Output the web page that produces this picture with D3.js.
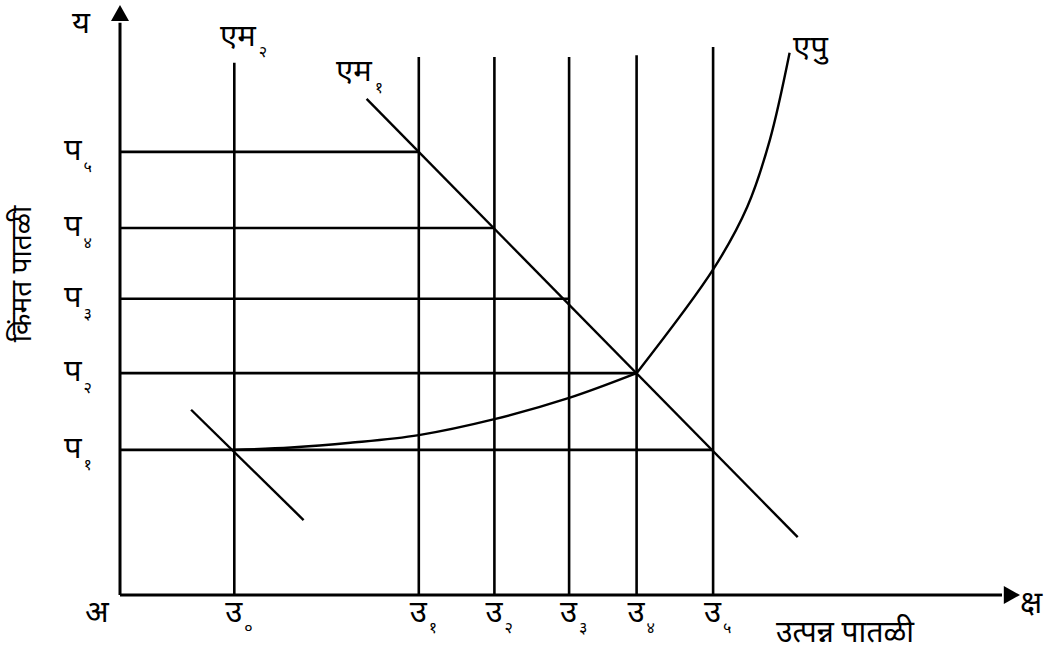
<!DOCTYPE html>
<html><head><meta charset="utf-8">
<script src="https://cdn.jsdelivr.net/npm/d3@7"></script>
<style>
html,body{margin:0;padding:0;background:#fff;}
text{font-family:"Noto Sans","Lohit Devanagari","FreeSans",sans-serif;fill:#000;}
</style></head>
<body><svg id="c" width="1047" height="650"></svg>
<script>
// Output levels (उ) on x, price levels (प) on y, in arbitrary units
const outputLabels = ["उ","उ","उ","उ","उ","उ"];
const outputSubs   = ["०","१","२","३","४","५"];
const outputLevels = [12.7, 33.2, 41.6, 49.9, 57.4, 65.9];
const outputTops   = [90.2, 91.2, 91.2, 91.2, 91.5, 92.9];
const priceSubs    = ["१","२","३","४","५"];
const priceLevels  = [24.6, 37.6, 50.2, 62.2, 75.1];
// horizontal price lines end at the matching output level (उ5..उ1)
const priceEnds    = [65.9, 57.4, 49.9, 41.6, 33.2];
// एम१ demand line endpoints
const m1X = [27.4, 75.3];
const m1Y = [84.1, 9.8];
// short segment through (उ0, प1)
const m2X = [7.9, 20.4];
const m2Y = [31.4, 12.7];
// एपु curve: lower part up to (उ4, प2) and steep upper part
const acLowX = [12.7, 19.0, 25.6, 33.2, 41.6, 49.9, 57.4];
const acLowY = [24.6, 25.0, 25.8, 27.1, 29.8, 33.4, 37.6];
const acUpX  = [57.4, 66.0, 69.7, 72.2, 74.4];
const acUpY  = [37.6, 55.4, 65.8, 77.1, 91.9];

const svg = d3.select("#c");
const x = d3.scaleLinear().domain([0,100]).range([120,1020]);
const y = d3.scaleLinear().domain([0,100]).range([595,5]);

const g = svg.append("g");

g.selectAll(".vl").data(outputLevels).join("line")
  .attr("x1",d=>x(d)).attr("x2",d=>x(d))
  .attr("y1",(d,i)=>y(outputTops[i])).attr("y2",y(0))
  .attr("stroke","#000").attr("stroke-width",2.6);

g.selectAll(".hl").data(priceLevels).join("line")
  .attr("x1",x(0)).attr("x2",(d,i)=>x(priceEnds[i]))
  .attr("y1",d=>y(d)).attr("y2",d=>y(d))
  .attr("stroke","#000").attr("stroke-width",2.6);

g.append("line").attr("x1",x(m1X[0])).attr("y1",y(m1Y[0])).attr("x2",x(m1X[1])).attr("y2",y(m1Y[1]))
  .attr("stroke","#000").attr("stroke-width",2.4);
g.append("line").attr("x1",x(m2X[0])).attr("y1",y(m2Y[0])).attr("x2",x(m2X[1])).attr("y2",y(m2Y[1]))
  .attr("stroke","#000").attr("stroke-width",2.4);

const line = d3.line().x(d=>x(d[0])).y(d=>y(d[1])).curve(d3.curveCatmullRom.alpha(0.5));
const lowPts = acLowX.map((v,i)=>[v,acLowY[i]]);
const upPts = acUpX.map((v,i)=>[v,acUpY[i]]);
g.append("path").attr("d", line(lowPts)).attr("fill","none").attr("stroke","#000").attr("stroke-width",2.4);
g.append("path").attr("d", line(upPts)).attr("fill","none").attr("stroke","#000").attr("stroke-width",2.4);

// axes
g.append("line").attr("x1",x(0)).attr("y1",y(0)).attr("x2",x(0)).attr("y2",y(97)).attr("stroke","#000").attr("stroke-width",3);
g.append("line").attr("x1",x(0)).attr("y1",y(0)).attr("x2",x(98)).attr("y2",y(0)).attr("stroke","#000").attr("stroke-width",3);
g.append("path").attr("d",`M${x(0)},${y(100)} L${x(0)-9},${y(97.3)} L${x(0)+9},${y(97.3)} Z`).attr("fill","#000");
g.append("path").attr("d",`M${x(100)},${y(0)} L${x(98.2)},${y(0)-9} L${x(98.2)},${y(0)+9} Z`).attr("fill","#000");

function lab(px,py,main,sub,size,subdx,subdy){
  const t = svg.append("text").attr("x",px).attr("y",py).attr("font-size",size);
  t.append("tspan").text(main);
  if(sub){ t.append("tspan").attr("dx",subdx||2).attr("dy",subdy||12).attr("font-size",size*0.52).text(sub); }
  return t;
}

priceLevels.forEach((v,i)=>lab(64, y(v)+8, "प", priceSubs[i], 31, 2, 12));
outputLevels.forEach((v,i)=>lab(x(v)-9, 622, outputLabels[i], outputSubs[i], 31, 2, 11));

lab(72, 33, "य", null, 31);
lab(85, 622, "अ", null, 31);
lab(1020, 613, "क्ष", null, 31);
lab(776, 642, "उत्पन्न पातळी", null, 30);
lab(220, 46, "एम", "२", 31, 3, 11);
lab(336, 81, "एम", "१", 31, 3, 12);
lab(793, 57, "एपु", null, 31);

svg.append("text").attr("transform","translate(31,274) rotate(-90)")
  .attr("text-anchor","middle").attr("font-size",28).text("किंमत पातळी");
</script></body></html>
